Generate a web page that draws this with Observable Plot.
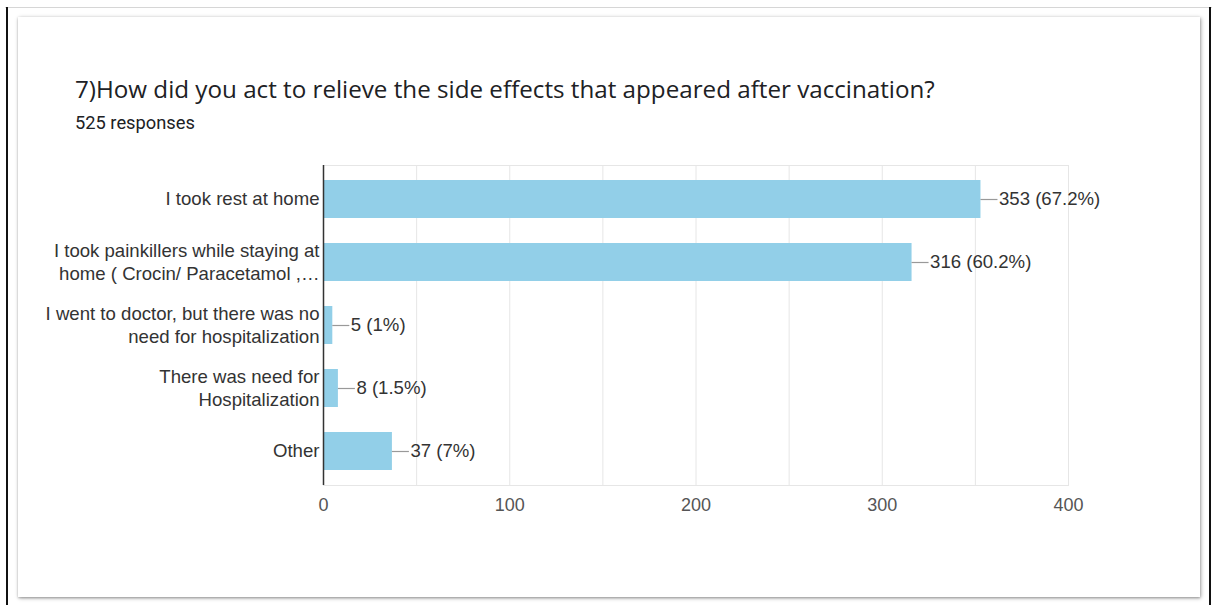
<!DOCTYPE html>
<html>
<head>
<meta charset="utf-8">
<script src="https://cdn.jsdelivr.net/npm/d3@7"></script>
<script src="https://cdn.jsdelivr.net/npm/@observablehq/plot@0.6"></script>
<style>
  html, body { margin: 0; padding: 0; background: #fff; width: 1212px; height: 605px; overflow: hidden; position: relative; }
  #topline { position: absolute; left: 5px; top: 7px; width: 1207px; height: 1px; background: #d6d6d6; }
  #lline { position: absolute; left: 6px; top: 7px; width: 2px; height: 598px; background: #111; }
  #rline { position: absolute; left: 1209px; top: 7px; width: 2px; height: 598px; background: #111; }
  #card { position: absolute; left: 18px; top: 17px; width: 1182px; height: 580px; background: #fff;
          box-shadow: 1px 1px 4px rgba(0,0,0,0.35), 0 1px 2px rgba(0,0,0,0.2); }
  #title { position: absolute; left: 75px; top: 72px; font-family: "Open Sans", Roboto, sans-serif; font-size: 24.2px; color: #202124; white-space: nowrap; }
  #subtitle { position: absolute; left: 75px; top: 112px; font-family: Roboto, "Open Sans", sans-serif; font-size: 18.3px; color: #202124; white-space: nowrap; }
  #chart { position: absolute; left: 0; top: 150px; }
</style>
</head>
<body>
<div id="topline"></div>
<div id="lline"></div>
<div id="rline"></div>
<div id="card"></div>
<div id="title">7)How did you act to relieve the side effects that appeared after vaccination?</div>
<div id="subtitle">525 responses</div>
<div id="chart"></div>
<script>
const categories = [
  "I took rest at home",
  "I took painkillers while staying at\nhome ( Crocin/ Paracetamol ,…",
  "I went to doctor, but there was no\nneed for hospitalization",
  "There was need for\nHospitalization",
  "Other"
];
const counts = [353, 316, 5, 8, 37];
const percents = ["67.2%", "60.2%", "1%", "1.5%", "7%"];
const xTicks = [0, 100, 200, 300, 400];
const xGrid = [0, 50, 100, 150, 200, 250, 300, 350, 400];

const data = categories.map((c, i) => ({cat: c, value: counts[i], label: `${counts[i]} (${percents[i]})`}));

const W = 1212, H = 380;
const mL = 323, mR = 144, mT = 15, mB = 45;
const pxPerUnit = (W - mL - mR) / 400;
const leader = 17 / pxPerUnit;
const font = '"Liberation Sans", Arial, sans-serif';
const fs = 18.6;

const chart = Plot.plot({
  width: W, height: H,
  marginLeft: mL, marginRight: mR, marginTop: mT, marginBottom: mB,
  style: {fontFamily: font, fontSize: fs + "px", color: "#333", background: "transparent"},
  x: {domain: [0, 400], axis: null, label: null},
  y: {domain: categories, paddingInner: 0.4, paddingOuter: 0.22, axis: null, label: null},
  marks: [
    Plot.gridX(xGrid, {stroke: "#e6e6e6", strokeOpacity: 1, strokeWidth: 1}),
    Plot.frame({stroke: "#e6e6e6"}),
    Plot.barX(data, {y: "cat", x: "value", fill: "#92cfe8"}),
    Plot.ruleY(data, {y: "cat", x1: "value", x2: d => d.value + leader, stroke: "#999", strokeWidth: 1.2}),
    Plot.text(data, {y: "cat", x: d => d.value + leader, text: "label", textAnchor: "start", dx: 1, fill: "#333", fontSize: fs}),
    Plot.ruleX([0], {stroke: "#333", strokeWidth: 1.5}),
    Plot.axisY({tickSize: 0, tickPadding: 4, fontSize: fs, lineHeight: 1.24, dy: -1.5, fill: "#333", label: null}),
    Plot.axisX(xTicks, {tickSize: 0, tickPadding: 13, fontSize: 18, fill: "#555", label: null})
  ]
});
document.getElementById("chart").appendChild(chart);
</script>
</body>
</html>
